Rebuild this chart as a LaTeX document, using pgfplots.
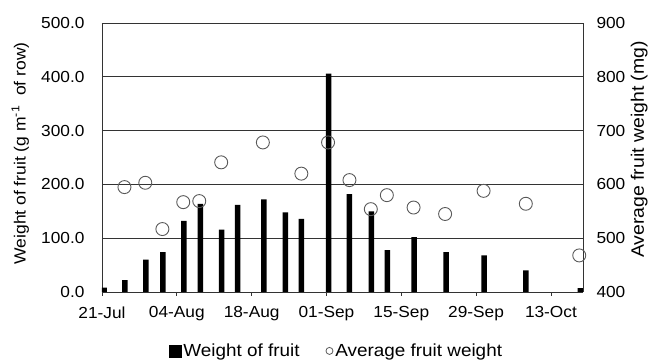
\documentclass[border=0pt]{standalone}
\usepackage{fontspec}
\setmainfont{Liberation Sans}[FakeStretch=1.08]
\usepackage{pgfplots}
\pgfplotsset{compat=1.18}
\newcommand\myf{\fontsize{16}{19}\selectfont}
\newcommand\myll{\fontsize{16.2}{19}\selectfont}
\newcommand\myl{\fontsize{17.5}{20}\selectfont}
\newcommand\myr{\fontsize{18}{21}\selectfont}
\begin{document}
\begin{tikzpicture}
\pgfplotsset{
  every tick label/.append style={font=\myf},
}
\begin{axis}[
  scale only axis, width=481pt, height=269pt,
  xmin=0, xmax=90, ymin=0, ymax=500,
  xtick={0,14,28,42,56,70,84},
  xticklabels={21-Jul,04-Aug,18-Aug,01-Sep,15-Sep,29-Sep,13-Oct},
  xtick pos=bottom, tick align=outside, major tick length=4pt,
  ytick={0,100,200,300,400,500},
  ytick style={draw=none},
  axis y line*=left,
  axis x line*=bottom,
  axis line style={black!80, line width=0.8pt},
  x tick style={black!80, line width=0.8pt},
  ymajorgrids, grid style={black!80, line width=0.7pt},
  yticklabel style={/pgf/number format/.cd, fixed, fixed zerofill, precision=1, assume math mode=true, /tikz/.cd, xshift=-10pt},
  xticklabel style={yshift=-7pt},
  ylabel={Weight of fruit (g m\textsuperscript{-1}\ \ of row)},
  ylabel style={at={(axis description cs:-0.170,0.515)}, anchor=center, font=\myll},
]
\addplot[ybar, bar width=5.5pt, fill=black, draw=none] coordinates {
(0.4,8) (4.3,22) (8.2,60) (11.4,74) (15.3,132) (18.4,164) (22.4,116) (25.4,162)
(30.3,172) (34.3,148) (37.3,136) (42.4,406) (46.3,182) (50.4,150) (53.4,78)
(58.4,102) (64.4,74) (71.5,68) (79.3,40) (89.5,7)
};
\end{axis}
\begin{axis}[
  scale only axis, width=481pt, height=269pt,
  xmin=0, xmax=90, ymin=400, ymax=900,
  axis y line*=right, axis x line=none,
  ytick={400,500,600,700,800,900},
  ytick style={draw=none},
  axis line style={black!80, line width=0.8pt},
  yticklabel style={/pgf/number format/assume math mode=true, xshift=10pt},
  ylabel={Average fruit weight (mg)},
  ylabel style={at={(axis description cs:1.117,0.53)}, anchor=center, font=\myr},
  clip=false,
  legend columns=2,
  legend style={at={(axis description cs:0.4875,-0.219)}, anchor=center, draw=none, fill=none,
    font=\myl, inner sep=0pt,
    /tikz/every even column/.append style={column sep=24pt},
    nodes={inner xsep=2pt, font=\myl}},
]
\addlegendimage{legend image code/.code={\fill[black] (0pt,-6pt) rectangle (12pt,6pt);}}
\addlegendentry{Weight of fruit}
\addplot[only marks, mark=o, mark size=6.5pt, mark options={draw=black!65, line width=0.9pt},
  legend image code/.code={\draw[black!65, line width=0.8pt] (4pt,0pt) circle (3.5pt);}] coordinates {
(4.2,595) (8.1,603) (11.3,517) (15.2,567) (18.2,569) (22.3,641) (30.1,678)
(37.3,620) (42.3,678) (46.3,608) (50.3,554) (53.3,580) (58.3,557) (64.2,545)
(71.4,588) (79.3,564) (89.3,468)
};
\addlegendentry{Average fruit weight}
\draw[black!80, line width=0.8pt] (rel axis cs:0,1) -- (rel axis cs:1,1);
\end{axis}
\pgfresetboundingbox
\path[use as bounding box] (-102pt,-69pt) rectangle (555pt,292pt);
\end{tikzpicture}
\end{document}
